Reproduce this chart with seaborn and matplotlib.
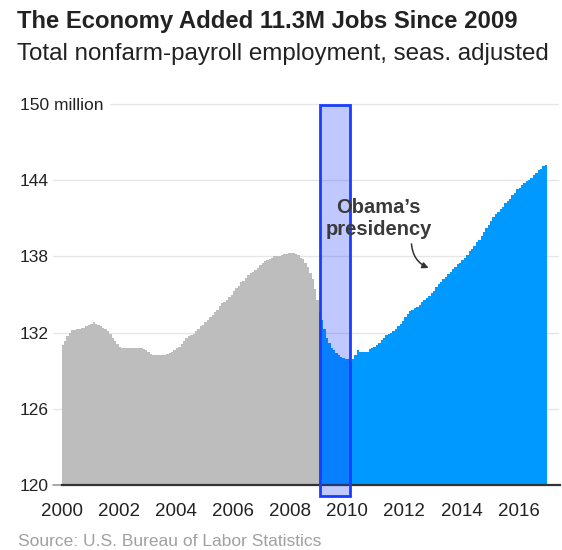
import numpy as np
import pandas as pd
import matplotlib
matplotlib.use("Agg")
import matplotlib.pyplot as plt
import seaborn as sns
from matplotlib.patches import Rectangle
from matplotlib.transforms import blended_transform_factory

# ---- data: total nonfarm payroll employment, millions, monthly ----
jobs_2000 = [131.0, 131.3, 131.7, 132.0, 132.2, 132.2, 132.3, 132.3, 132.4, 132.4, 132.5, 132.6]
jobs_2001 = [132.7, 132.8, 132.7, 132.6, 132.5, 132.4, 132.3, 132.1, 131.9, 131.6, 131.3, 131.1]
jobs_2002 = [130.9, 130.8, 130.8, 130.8, 130.8, 130.8, 130.8, 130.8, 130.8, 130.8, 130.7, 130.6]
jobs_2003 = [130.5, 130.3, 130.2, 130.2, 130.2, 130.2, 130.2, 130.2, 130.3, 130.4, 130.5, 130.6]
jobs_2004 = [130.8, 130.9, 131.1, 131.3, 131.6, 131.7, 131.8, 131.9, 132.1, 132.3, 132.5, 132.6]
jobs_2005 = [132.8, 133.0, 133.2, 133.4, 133.6, 133.8, 134.1, 134.3, 134.4, 134.6, 134.8, 135.0]
jobs_2006 = [135.3, 135.5, 135.7, 136.0, 136.1, 136.3, 136.5, 136.7, 136.8, 136.9, 137.1, 137.3]
jobs_2007 = [137.5, 137.6, 137.7, 137.8, 137.9, 138.0, 138.0, 138.0, 138.1, 138.2, 138.2, 138.3]
jobs_2008 = [138.3, 138.3, 138.2, 138.1, 137.9, 137.8, 137.5, 137.2, 136.7, 136.2, 135.4, 134.6]
jobs_2009 = [133.6, 133.0, 132.3, 131.6, 131.2, 130.8, 130.6, 130.4, 130.2, 130.1, 130.0, 129.9]
jobs_2010 = [129.9, 129.8, 129.9, 130.2, 130.6, 130.5, 130.5, 130.5, 130.5, 130.7, 130.8, 130.9]
jobs_2011 = [131.0, 131.2, 131.4, 131.6, 131.8, 131.9, 132.0, 132.1, 132.3, 132.5, 132.7, 132.9]
jobs_2012 = [133.2, 133.5, 133.7, 133.8, 133.9, 134.0, 134.2, 134.4, 134.6, 134.7, 134.9, 135.1]
jobs_2013 = [135.3, 135.6, 135.8, 136.0, 136.2, 136.4, 136.6, 136.8, 137.0, 137.2, 137.4, 137.5]
jobs_2014 = [137.7, 137.9, 138.1, 138.4, 138.6, 138.8, 139.1, 139.3, 139.6, 139.9, 140.2, 140.5]
jobs_2015 = [140.8, 141.1, 141.3, 141.5, 141.7, 141.9, 142.2, 142.4, 142.5, 142.8, 143.0, 143.3]
jobs_2016 = [143.4, 143.6, 143.8, 143.9, 144.0, 144.2, 144.4, 144.6, 144.8, 144.9, 145.1, 145.2]

start_month = "2000-01-01"
obama_start = "2009-01-01"
highlight_start = 2009.05
highlight_end = 2010.1
x_ticks = [2000, 2002, 2004, 2006, 2008, 2010, 2012, 2014, 2016]
y_ticks = [120, 126, 132, 138, 144, 150]
y_tick_labels = ["120", "126", "132", "138", "144", "150 million"]

title = "The Economy Added 11.3M Jobs Since 2009"
subtitle = "Total nonfarm-payroll employment, seas. adjusted"
source = "Source: U.S. Bureau of Labor Statistics"
annotation = "Obama\u2019s\npresidency"

jobs = (jobs_2000 + jobs_2001 + jobs_2002 + jobs_2003 + jobs_2004 + jobs_2005 +
        jobs_2006 + jobs_2007 + jobs_2008 + jobs_2009 + jobs_2010 + jobs_2011 +
        jobs_2012 + jobs_2013 + jobs_2014 + jobs_2015 + jobs_2016)
months = pd.date_range(start_month, periods=len(jobs), freq="MS")
t = months.year + (months.month - 0.5) / 12.0
period = np.where(months < pd.Timestamp(obama_start), "before", "obama")
df = pd.DataFrame({"t": t, "jobs": jobs, "period": period})

# ---- style ----
sns.set_style("white")
plt.rcParams["font.family"] = ["Liberation Sans", "DejaVu Sans"]

W, H = 562, 550
fig = plt.figure(figsize=(W / 100, H / 100), dpi=100)
ax_left, ax_right = 61.6, 560
ax_top, ax_bottom = 104, 485
ax = fig.add_axes([ax_left / W, 1 - ax_bottom / H, (ax_right - ax_left) / W, (ax_bottom - ax_top) / H])

GRAY = "#bdbdbd"
BLUE = "#0099ff"
HL = "#1a3cff"

sns.barplot(data=df, x="t", y="jobs", hue="period",
            palette={"before": GRAY, "obama": BLUE},
            native_scale=True, dodge=False, width=1.0, saturation=1,
            linewidth=0, errorbar=None, legend=False, ax=ax, zorder=2)

ax.set_xlim(2000, 2017.45)
ax.set_ylim(120, 150)

# gridlines
trans = blended_transform_factory(ax.transAxes, ax.transData)
for yv in y_ticks[1:]:
    x0 = 0.097 if yv == 150 else -0.017
    ax.plot([x0, 0.995], [yv, yv], transform=trans, color="#e6e6e6",
            lw=1.0, zorder=0, clip_on=False)
ax.plot([-0.017, 0.0], [120, 120], transform=trans, color="#9a9a9a",
        lw=1.2, zorder=0, clip_on=False)

for s in ["left", "right", "top"]:
    ax.spines[s].set_visible(False)
ax.spines["bottom"].set_color("#333333")
ax.spines["bottom"].set_linewidth(1.6)
ax.spines["bottom"].set_zorder(4)

ax.set_xticks(x_ticks)
ax.set_xticklabels([str(v) for v in x_ticks])
ax.set_yticks(y_ticks)
ax.set_yticklabels(y_tick_labels)
ax.tick_params(axis="x", direction="out", length=5.5, width=1.4, color="#333333",
               labelsize=13.5, labelcolor="#222222", pad=7.5)
ax.tick_params(axis="y", length=0, labelsize=12.5, labelcolor="#222222", pad=30)
for lab in ax.get_yticklabels():
    lab.set_horizontalalignment("left")
ax.set_xlabel("")
ax.set_ylabel("")

# highlight rectangle
rect = Rectangle((highlight_start, 119.13), highlight_end - highlight_start, 150 - 119.13 - 0.05,
                 facecolor=(0.10, 0.235, 1.0, 0.28), edgecolor=HL, linewidth=2.0,
                 zorder=5, clip_on=False)
ax.add_patch(rect)

# annotation
ax.text(2011.1, 141.0, annotation, ha="center", va="center", fontsize=14.5,
        fontweight="bold", color="#3a3a3a", linespacing=1.22, zorder=6)
ax.annotate("", xy=(2012.85, 137.09), xytext=(2012.25, 138.98),
            arrowprops=dict(arrowstyle="-|>", color="#333333", lw=1.1,
                            mutation_scale=9, shrinkA=0, shrinkB=0,
                            connectionstyle="arc3,rad=0.3"), zorder=6)

# titles
fig.text(17 / W, 1 - 28 / H, title, fontsize=17.2, fontweight="bold",
         color="#222222", va="baseline", ha="left")
fig.text(17 / W, 1 - 60 / H, subtitle, fontsize=17.4, color="#222222",
         va="baseline", ha="left")
fig.text(18 / W, 1 - 546 / H, source, fontsize=12.5, color="#a0a0a0",
         va="baseline", ha="left")

fig.savefig("out.png", dpi=100)
